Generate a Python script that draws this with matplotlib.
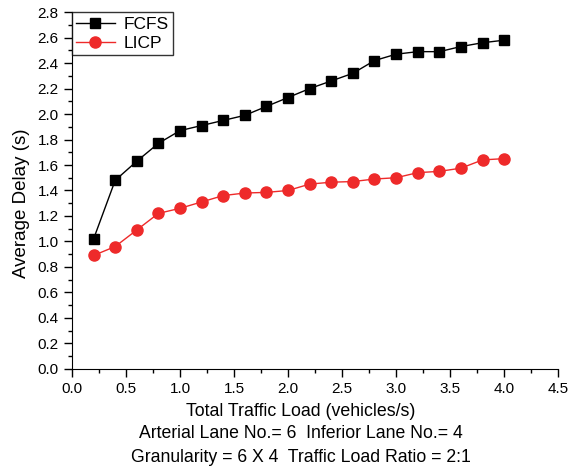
import matplotlib
matplotlib.use('Agg')
import matplotlib.pyplot as plt
from matplotlib.ticker import MultipleLocator

plt.rcParams['font.family'] = ['Liberation Sans', 'DejaVu Sans']

# data
load = [0.2, 0.4, 0.6, 0.8, 1.0, 1.2, 1.4, 1.6, 1.8, 2.0,
        2.2, 2.4, 2.6, 2.8, 3.0, 3.2, 3.4, 3.6, 3.8, 4.0]
fcfs = [1.02, 1.48, 1.63, 1.77, 1.87, 1.91, 1.95, 1.99, 2.06, 2.13,
        2.20, 2.26, 2.32, 2.42, 2.47, 2.49, 2.49, 2.53, 2.56, 2.58]
licp = [0.89, 0.96, 1.09, 1.22, 1.26, 1.31, 1.36, 1.38, 1.385, 1.40,
        1.45, 1.465, 1.47, 1.49, 1.50, 1.54, 1.55, 1.575, 1.64, 1.65]

fig = plt.figure(figsize=(5.76, 4.68), dpi=100)
ax = fig.add_axes([0.125, 0.212, 0.844, 0.762])

ax.plot(load, fcfs, '-s', color='black', lw=1.0, ms=7, label='FCFS')
ax.plot(load, licp, '-o', color='#ee2a2a', mec='#ee2a2a', lw=1.0, ms=8, label='LICP')

ax.set_xlim(0, 4.5)
ax.set_ylim(0, 2.8)
ax.xaxis.set_major_locator(MultipleLocator(0.5))
ax.xaxis.set_minor_locator(MultipleLocator(0.25))
ax.yaxis.set_major_locator(MultipleLocator(0.2))
ax.yaxis.set_minor_locator(MultipleLocator(0.1))
ax.xaxis.set_major_formatter(plt.FormatStrFormatter('%.1f'))
ax.yaxis.set_major_formatter(plt.FormatStrFormatter('%.1f'))

ax.spines['top'].set_visible(False)
ax.spines['right'].set_visible(False)
ax.tick_params(which='major', direction='out', length=6, width=1, labelsize=11)
ax.tick_params(which='minor', direction='out', length=3, width=1)

leg = ax.legend(loc='upper left', borderaxespad=0, fontsize=12.5, fancybox=False,
                handlelength=2.2, handletextpad=0.5, borderpad=0.25, labelspacing=0.25)
leg.get_frame().set_edgecolor('black')
leg.get_frame().set_linewidth(1.0)

fig.text(22 / 576, 1 - 203 / 468, 'Average Delay (s)', rotation=90,
         ha='center', va='center', fontsize=13.5)

cx = 301 / 576
fig.text(cx, 1 - 411 / 468, 'Total Traffic Load (vehicles/s)', ha='center', va='center', fontsize=12.8)
fig.text(cx, 1 - 434 / 468, 'Arterial Lane No.= 6  Inferior Lane No.= 4', ha='center', va='center', fontsize=12.7)
fig.text(cx, 1 - 457 / 468, 'Granularity = 6 X 4  Traffic Load Ratio = 2:1', ha='center', va='center', fontsize=12.7)

fig.savefig('out.png', dpi=100)
